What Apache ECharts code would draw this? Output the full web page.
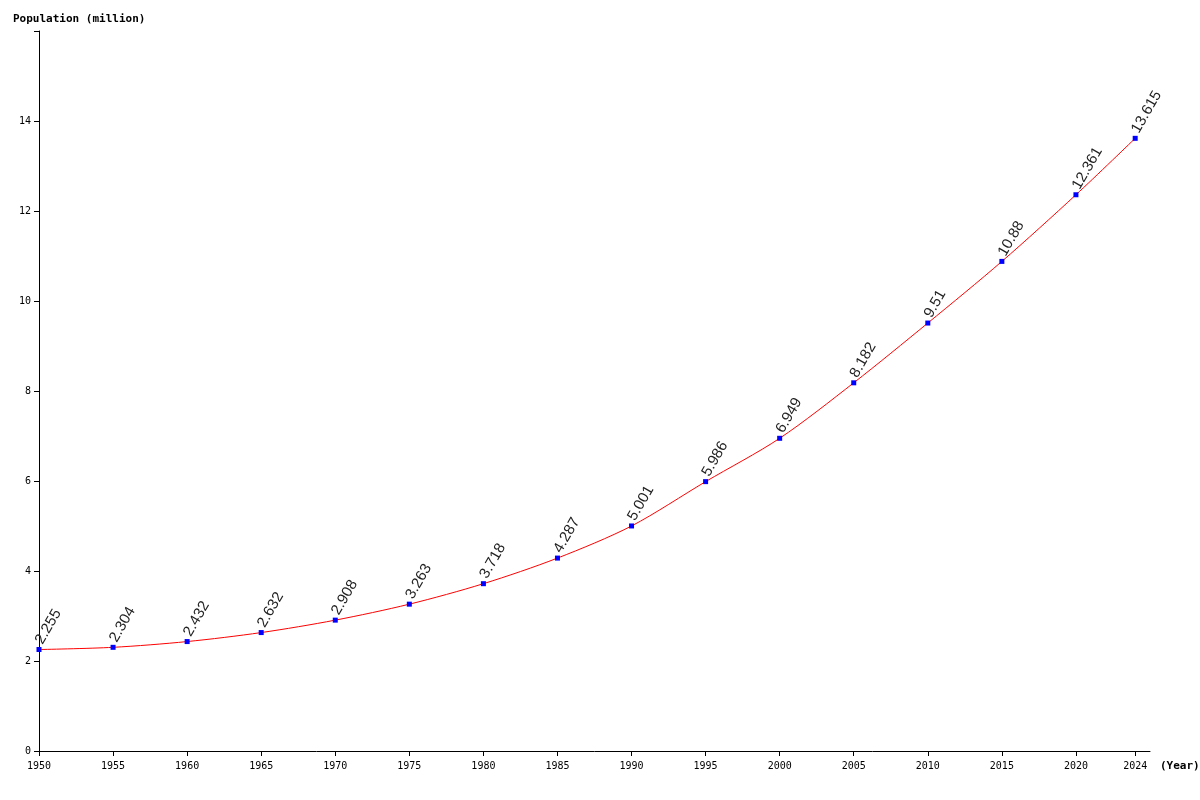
<!DOCTYPE html>
<html><head><meta charset="utf-8">
<script src="https://cdn.jsdelivr.net/npm/echarts@6/dist/echarts.min.js"></script>
<style>html,body{margin:0;padding:0;background:#fff}#c{width:1200px;height:800px}</style>
</head><body><div id="c"></div>
<script>
const years = [1950,1955,1960,1965,1970,1975,1980,1985,1990,1995,2000,2005,2010,2015,2020,2024];
const population = [2.255,2.304,2.432,2.632,2.908,3.263,3.718,4.287,5.001,5.986,6.949,8.182,9.51,10.88,12.361,13.615];
const yTicks = [0,2,4,6,8,10,12,14];
const axisYears = [];
for (let y = 1950; y <= 2025; y++) axisYears.push(String(y));
const shown = new Set(years.map(String));
const chart = echarts.init(document.getElementById('c'));
const mono = 'DejaVu Sans Mono';
chart.setOption({
  animation:false,
  grid:{left:39,right:50,top:31,bottom:49},
  title:{text:'Population (million)',left:8,top:9,textStyle:{fontFamily:mono,fontSize:11,fontWeight:'bold',color:'#000'}},
  graphic:[{type:'text',left:1160,top:761,style:{text:'(Year)',font:'bold 11px "DejaVu Sans Mono"',fill:'#000'}}],
  xAxis:{type:'category',data:axisYears,boundaryGap:false,
    axisLine:{lineStyle:{color:'#000'}},
    axisTick:{interval:(i,v)=>shown.has(v),lineStyle:{color:'#000'},length:5},
    axisLabel:{interval:(i,v)=>shown.has(v),fontFamily:mono,fontSize:10,color:'#000',margin:10}},
  yAxis:{type:'value',min:0,max:16,interval:2,
    axisLine:{show:true,lineStyle:{color:'#000'}},
    axisTick:{show:true,lineStyle:{color:'#000'},length:5},
    splitLine:{show:false},
    axisLabel:{fontFamily:mono,fontSize:10,color:'#000',formatter:v=>yTicks.includes(v)?String(v):''}},
  series:[{type:'line',smooth:0.3,
    data:years.map((y,i)=>[String(y),population[i]]),
    lineStyle:{color:'#ff0000',width:1},
    symbol:'rect',symbolSize:5,itemStyle:{color:'#0000ff'},
    label:{show:true,position:'top',distance:4,rotate:60,align:'left',verticalAlign:'middle',
      fontFamily:'Liberation Sans',fontSize:15,color:'#222',formatter:p=>String(p.value[1])}}]
});
</script></body></html>
